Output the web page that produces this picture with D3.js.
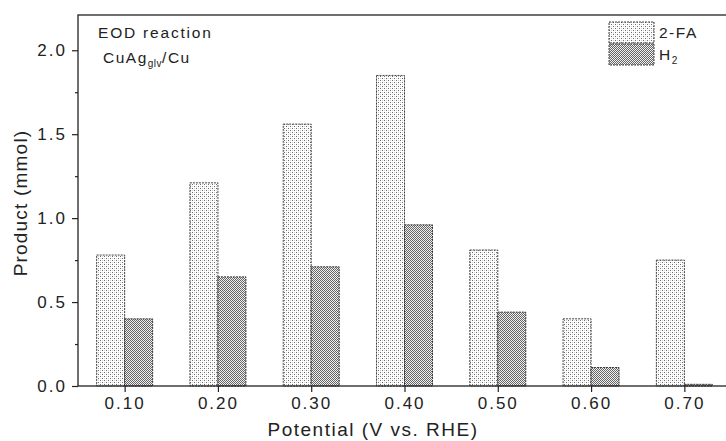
<!DOCTYPE html>
<html>
<head>
<meta charset="utf-8">
<script src="https://cdn.jsdelivr.net/npm/d3@7"></script>
<style>
  body { margin: 0; background: #fff; }
  svg { display: block; font-family: "Liberation Sans", Arial, sans-serif; }
</style>
</head>
<body>
<div id="chart"></div>
<script>
// data
var potentials = [0.10, 0.20, 0.30, 0.40, 0.50, 0.60, 0.70];
var faValues = [0.78, 1.21, 1.56, 1.85, 0.81, 0.40, 0.75];
var h2Values = [0.40, 0.65, 0.71, 0.96, 0.44, 0.11, 0.01];
var seriesNames = ['2-FA', 'H2'];
var yTicks = [0.0, 0.5, 1.0, 1.5, 2.0];

var W = 726, H = 441;
var margin = {top: 15, left: 78, bottom: 55},
    plotRight = 731,
    plotBottom = H - margin.bottom;
var barW = 0.03;

var svg = d3.select('#chart').append('svg')
    .attr('width', W)
    .attr('height', H);

var defs = svg.append('defs');
// light dotted fill for 2-FA
var p1 = defs.append('pattern').attr('id', 'patFA')
    .attr('patternUnits', 'userSpaceOnUse').attr('width', 4).attr('height', 4);
p1.append('rect').attr('width', 4).attr('height', 4).attr('fill', '#fff');
[[0, 0], [2, 2]].forEach(function(p) {
    p1.append('rect').attr('x', p[0]).attr('y', p[1]).attr('width', 1).attr('height', 1).attr('fill', '#6a6a6a');
});
[[2, 0], [0, 2]].forEach(function(p) {
    p1.append('rect').attr('x', p[0]).attr('y', p[1]).attr('width', 1).attr('height', 1).attr('fill', '#d4d4d4');
});
// denser dotted fill for H2
var p2 = defs.append('pattern').attr('id', 'patH2')
    .attr('patternUnits', 'userSpaceOnUse').attr('width', 2).attr('height', 2);
p2.append('rect').attr('width', 2).attr('height', 2).attr('fill', '#f0f0f0');
p2.append('rect').attr('x', 0).attr('y', 0).attr('width', 1).attr('height', 1).attr('fill', '#666');
p2.append('rect').attr('x', 1).attr('y', 1).attr('width', 1).attr('height', 1).attr('fill', '#666');

var x = d3.scaleLinear()
    .domain([0.05, 0.75])
    .range([margin.left, plotRight]);

var y = d3.scaleLinear()
    .domain([0, 2.21])
    .range([plotBottom, margin.top]);

// bars
var gBars = svg.append('g');
gBars.selectAll('rect.fa')
    .data(potentials)
    .enter().append('rect')
    .attr('class', 'fa')
    .attr('x', function(d) { return x(d - barW); })
    .attr('y', function(d, i) { return y(faValues[i]); })
    .attr('width', function(d) { return x(d) - x(d - barW); })
    .attr('height', function(d, i) { return y(0) - y(faValues[i]); })
    .attr('fill', 'url(#patFA)')
    .attr('stroke', '#444')
    .attr('stroke-width', 1)
    .attr('stroke-dasharray', '2,1');

gBars.selectAll('rect.h2')
    .data(potentials)
    .enter().append('rect')
    .attr('class', 'h2')
    .attr('x', function(d) { return x(d); })
    .attr('y', function(d, i) { return y(h2Values[i]); })
    .attr('width', function(d) { return x(d + barW) - x(d); })
    .attr('height', function(d, i) { return y(0) - y(h2Values[i]); })
    .attr('fill', 'url(#patH2)')
    .attr('stroke', '#333')
    .attr('stroke-width', 1)
    .attr('stroke-dasharray', '2,1');

// frame
svg.append('rect')
    .attr('x', margin.left)
    .attr('y', margin.top)
    .attr('width', plotRight - margin.left)
    .attr('height', plotBottom - margin.top)
    .attr('fill', 'none')
    .attr('stroke', '#222')
    .attr('stroke-width', 1.3);

// y axis
var yAxis = d3.axisLeft(y)
    .tickValues(yTicks)
    .tickSize(6)
    .tickPadding(5)
    .tickFormat(d3.format('.1f'));
var gy = svg.append('g')
    .attr('transform', 'translate(' + margin.left + ',0)')
    .call(yAxis);
gy.select('.domain').remove();
gy.selectAll('line').attr('stroke', '#222').attr('stroke-width', 1.2);
gy.selectAll('text').style('font-size', '17px').style('letter-spacing', '2px').attr('fill', '#222');

var gyMinor = svg.append('g')
    .attr('transform', 'translate(' + margin.left + ',0)')
    .call(d3.axisLeft(y).tickValues([0.25, 0.75, 1.25, 1.75]).tickSize(3).tickFormat(''));
gyMinor.select('.domain').remove();
gyMinor.selectAll('line').attr('stroke', '#222').attr('stroke-width', 1.2);

// x axis
var xAxis = d3.axisBottom(x)
    .tickValues(potentials)
    .tickSize(6)
    .tickPadding(5)
    .tickFormat(d3.format('.2f'));
var gx = svg.append('g')
    .attr('transform', 'translate(0,' + plotBottom + ')')
    .call(xAxis);
gx.select('.domain').remove();
gx.selectAll('line').attr('stroke', '#222').attr('stroke-width', 1.2);
gx.selectAll('text').style('font-size', '17px').style('letter-spacing', '2px').attr('fill', '#222');

// axis titles
svg.append('text')
    .attr('x', 373)
    .attr('y', 436)
    .attr('text-anchor', 'middle')
    .style('font-size', '19px')
    .style('letter-spacing', '1.5px')
    .attr('fill', '#222')
    .text('Potential (V vs. RHE)');

svg.append('text')
    .attr('transform', 'translate(27,' + 203 + ') rotate(-90)')
    .attr('text-anchor', 'middle')
    .style('font-size', '19px')
    .style('letter-spacing', '1.2px')
    .attr('fill', '#222')
    .text('Product (mmol)');

// annotations
svg.append('text')
    .attr('x', 98)
    .attr('y', 38)
    .style('font-size', '15.5px')
    .style('letter-spacing', '1.8px')
    .attr('fill', '#222')
    .text('EOD reaction');

var t2 = svg.append('text')
    .attr('x', 103)
    .attr('y', 63)
    .style('font-size', '15.5px')
    .style('letter-spacing', '1.5px')
    .attr('fill', '#222');
t2.append('tspan').text('CuAg');
t2.append('tspan').attr('dy', 4).style('font-size', '10px').style('letter-spacing', '0.5px').text('glv');
t2.append('tspan').attr('dy', -4).text('/Cu');

// legend
var legend = svg.append('g').attr('transform', 'translate(609,22)');
var fills = ['url(#patFA)', 'url(#patH2)'];
seriesNames.forEach(function(name, i) {
    legend.append('rect')
        .attr('x', 0)
        .attr('y', i * 22)
        .attr('width', 45)
        .attr('height', 21)
        .attr('fill', fills[i])
        .attr('stroke', '#444')
        .attr('stroke-dasharray', '2,1');
    var t = legend.append('text')
        .attr('x', 50)
        .attr('y', i * 22 + 16)
        .style('font-size', '15.5px')
        .style('letter-spacing', '1.5px')
        .attr('fill', '#222');
    if (name === 'H2') {
        t.append('tspan').text('H');
        t.append('tspan').attr('dy', 4).style('font-size', '10px').text('2');
    } else {
        t.text(name);
    }
});
</script>
</body>
</html>
